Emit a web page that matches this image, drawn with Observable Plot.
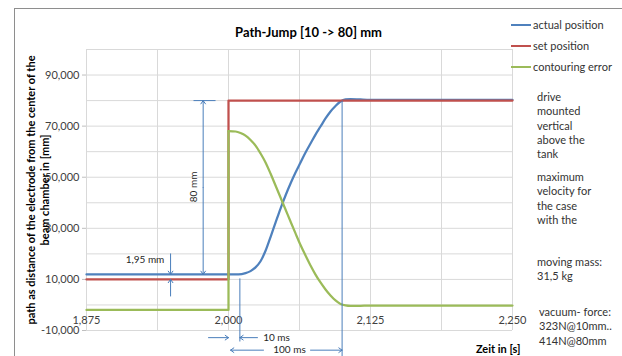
<!DOCTYPE html>
<html>
<head>
<meta charset="utf-8">
<script src="https://cdn.jsdelivr.net/npm/d3@7"></script>
<script src="https://cdn.jsdelivr.net/npm/@observablehq/plot@0.6"></script>
<style>
  body { margin: 0; background: #fff; }
  #wrap { position: relative; width: 622px; height: 356px; overflow: hidden; font-family: Lato, "Open Sans", sans-serif; }
  #frame { position: absolute; left: 14px; top: 8px; width: 700px; height: 400px; border-left: 1px solid #8e8e8e; border-top: 1px solid #8e8e8e; }
  #chart { position: absolute; left: 0; top: 0; }
  #legend { position: absolute; left: 511px; top: 14px; font-size: 11px; color: #333; }
  #legend .row { height: 21px; display: flex; align-items: center; white-space: nowrap; }
  #legend .sw { width: 20px; height: 2px; margin-right: 2px; }
  .note { position: absolute; font-size: 11px; line-height: 14.3px; color: #333; white-space: pre; }
</style>
</head>
<body>
<div id="wrap"><div id="frame"></div><div id="chart"></div><div id="legend"></div></div>
<script>
// ---------- data ----------
const chartTitle = "Path-Jump [10 -> 80] mm";
const yTitle = "path as distance of the electrode from the center of the\nbeam chamber in [mm]";
const xTitle = "Zeit in [s]";

const xTicks = [1.875, 2.0, 2.125, 2.25];
const xTickLabels = ["1,875", "2,000", "2,125", "2,250"];
const xGrid = [1.875, 1.9375, 2.0, 2.0625, 2.125, 2.1875, 2.25];
const yTicks = [-10000, 10000, 30000, 50000, 70000, 90000];
const yGrid = [-10000, 0, 10000, 20000, 30000, 40000, 50000, 60000, 70000, 80000, 90000, 100000];

const seriesNames = ["actual position", "set position", "contouring error"];

// [time in s, path]
const actualPosition = [
  [1.875, 11950], [2.000, 11950], [2.0088, 11950], [2.0150, 12450], [2.0194, 13250],
  [2.0238, 14700], [2.0282, 17100], [2.0326, 21200], [2.0370, 26600], [2.0414, 32200],
  [2.0458, 37750], [2.0502, 42850], [2.0546, 47550], [2.0590, 51850], [2.0634, 55750],
  [2.0678, 59700], [2.0722, 63200], [2.0766, 66700], [2.0810, 69850], [2.0854, 73000],
  [2.0898, 75750], [2.0942, 77900], [2.0986, 79650], [2.1030, 80450], [2.1074, 80600],
  [2.1162, 80450], [2.1300, 80300], [2.2500, 80300]
];
const setPosition = [[1.875, 10000], [2.000, 10000], [2.000, 80000], [2.250, 80000]];
const contouringError = [
  [1.875, -1950], [2.000, -1950], [2.000, 68050],
  [2.0062, 67900], [2.0106, 67300], [2.0150, 66300], [2.0194, 64600], [2.0238, 62400],
  [2.0282, 59300], [2.0326, 55800], [2.0370, 51450], [2.0414, 46750], [2.0458, 42050],
  [2.0502, 37350], [2.0546, 32650], [2.0590, 28000], [2.0634, 23450], [2.0678, 19350],
  [2.0722, 15450], [2.0766, 11900], [2.0810, 8800], [2.0854, 6050], [2.0898, 3700],
  [2.0942, 1750], [2.0986, 400], [2.1030, -200], [2.1074, -400], [2.1162, -330],
  [2.1300, -250], [2.2500, -250]
];

// annotation geometry in data units (time, path)
const dimensionArrows = [
  {x1: 1.9777, y1: 46000, x2: 1.9777, y2: 80000},
  {x1: 1.9777, y1: 46000, x2: 1.9777, y2: 11950},
  {x1: 1.949, y1: 20000, x2: 1.949, y2: 11950},
  {x1: 1.949, y1: 3500, x2: 1.949, y2: 10000},
  {x1: 1.9824, y1: -12800, x2: 2.000, y2: -12800},
  {x1: 2.0255, y1: -12800, x2: 2.010, y2: -12800},
  {x1: 2.0308, y1: -17700, x2: 2.0018, y2: -17700},
  {x1: 2.0722, y1: -17700, x2: 2.100, y2: -17700}
];
const dimensionLines = [
  {x1: 1.9692, y1: 80000, x2: 1.9886, y2: 80000},
  {x1: 2.010, y1: 10400, x2: 2.010, y2: -14300},
  {x1: 2.100, y1: 80000, x2: 2.100, y2: -23000}
];
const dimensionLabels = [
  {x: 1.9692, y: 46200, text: "80 mm", rotate: -90},
  {x: 1.9265, y: 17500, text: "1,95 mm", rotate: 0},
  {x: 2.0423, y: -12800, text: "10 ms", rotate: 0},
  {x: 2.0537, y: -17700, text: "100 ms", rotate: 0}
];

const sideNotes = [
  "drive\nmounted\nvertical\nabove the\ntank",
  "maximum\nvelocity for\nthe case\nwith the",
  "moving mass:\n31,5 kg",
  "vacuum- force:\n323N@10mm..\n414N@80mm"
];

// ---------- styles ----------
const colors = ["#4F81BD", "#C0504D", "#9BBB59"];
const annColor = "#4A7EBB";
const textColor = "#404040";

const fmtY = d => d.toLocaleString("en-US");
const jump = contouringError.findIndex(d => d[1] > 0);

const chart = Plot.plot({
  width: 622,
  height: 356,
  marginLeft: 86,
  marginRight: 110,
  marginTop: 49,
  marginBottom: 26,
  x: {domain: [1.875, 2.25], axis: null},
  y: {domain: [-10000, 100000], axis: null},
  style: {fontFamily: "Lato, 'Open Sans', sans-serif", fontSize: "11px", color: textColor, background: "transparent", overflow: "visible"},
  marks: [
    Plot.gridY({ticks: yGrid, stroke: "#d9d9d9", strokeOpacity: 1}),
    Plot.gridX({ticks: xGrid, stroke: "#d9d9d9", strokeOpacity: 1}),
    Plot.axisY({ticks: yTicks, tickFormat: fmtY, tickSize: 4, tickPadding: 3, stroke: "#bfbfbf", fill: textColor, label: null}),
    Plot.text(xTicks, {x: d => d, y: 0, dy: 16, text: (d, i) => xTickLabels[i], fill: textColor}),
    // series
    Plot.line(actualPosition, {x: d => d[0], y: d => d[1], stroke: colors[0], strokeWidth: 2.25, curve: "monotone-x"}),
    Plot.line(setPosition, {x: d => d[0], y: d => d[1], stroke: colors[1], strokeWidth: 2.25}),
    Plot.line(contouringError.slice(0, jump + 1), {x: d => d[0], y: d => d[1], stroke: colors[2], strokeWidth: 2.25}),
    Plot.line(contouringError.slice(jump), {x: d => d[0], y: d => d[1], stroke: colors[2], strokeWidth: 2.25, curve: "monotone-x"}),
    // dimension annotations
    Plot.link(dimensionLines, {x1: "x1", y1: "y1", x2: "x2", y2: "y2", stroke: annColor, strokeWidth: 1}),
    Plot.arrow(dimensionArrows, {x1: "x1", y1: "y1", x2: "x2", y2: "y2", stroke: annColor, strokeWidth: 1, headLength: 6, headAngle: 70, inset: 0}),
    Plot.text(dimensionLabels, {x: "x", y: "y", text: "text", rotate: "rotate", fontSize: 10, fill: "#262626"}),
    // titles
    Plot.text([chartTitle], {text: d => d, frameAnchor: "top", dx: 9, dy: -17, lineAnchor: "middle", fontWeight: "bold", fontSize: 13, fill: "#000"}),
    Plot.text([yTitle], {text: d => d, frameAnchor: "left", textAnchor: "middle", rotate: -90, dx: -49, lineAnchor: "middle", lineHeight: 1.27, fontWeight: "bold", fontSize: 11, fill: "#000"}),
    Plot.text([xTitle], {text: d => d, frameAnchor: "bottom-right", textAnchor: "end", dx: 8, dy: 19, lineAnchor: "middle", fontWeight: "bold", fontSize: 11, fill: "#000"})
  ]
});
document.getElementById("chart").appendChild(chart);

// legend
const legend = document.getElementById("legend");
seriesNames.forEach((name, i) => {
  const row = document.createElement("div");
  row.className = "row";
  const sw = document.createElement("span");
  sw.className = "sw";
  sw.style.background = colors[i];
  const lab = document.createElement("span");
  lab.textContent = name;
  row.appendChild(sw);
  row.appendChild(lab);
  legend.appendChild(row);
});

// side notes (text box)
const noteBoxes = [{left: 537, top: 90}, {left: 537, top: 170}, {left: 537, top: 255}, {left: 539, top: 305}];
sideNotes.forEach((t, i) => {
  const d = document.createElement("div");
  d.className = "note";
  d.style.left = noteBoxes[i].left + "px";
  d.style.top = noteBoxes[i].top + "px";
  d.textContent = t;
  document.getElementById("wrap").appendChild(d);
});
</script>
</body>
</html>
